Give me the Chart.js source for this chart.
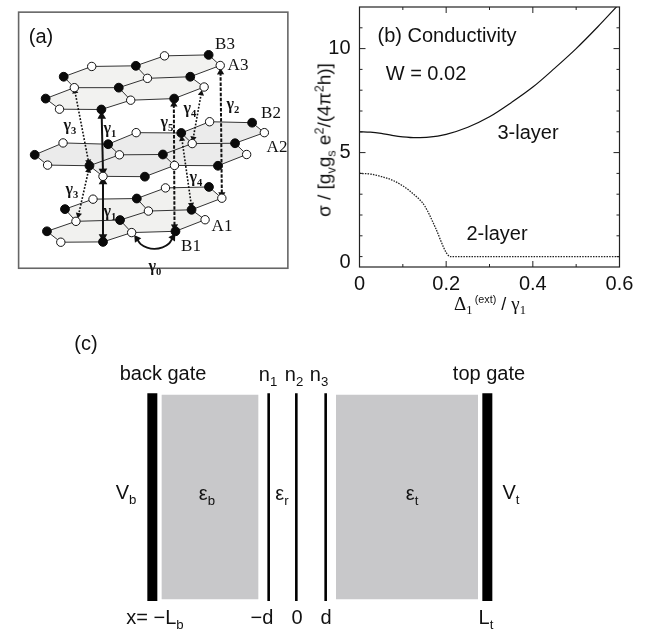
<!DOCTYPE html>
<html>
<head>
<meta charset="utf-8">
<title>Conductivity</title>
<script src="https://cdn.jsdelivr.net/npm/chart.js@4"></script>
<style>
  html, body { margin: 0; padding: 0; background: #fff; }
  #page { position: relative; width: 657px; height: 629px; overflow: hidden; font-family: "Liberation Sans", sans-serif; color: #111; filter: blur(0.35px); }
  .panel { position: absolute; }
  .panel canvas { position: absolute; left: 0; top: 0; }
  .lab { position: absolute; white-space: nowrap; transform: translate(-50%, -50%); font-size: 20px; line-height: 1; }
  .lab sub, .lab sup { font-size: 66%; line-height: 0; }
  .ser { font-family: "Liberation Serif", serif; font-size: 17px; }
  .gam { font-family: "Liberation Serif", serif; font-size: 16px; font-weight: bold; }
  .rot { transform: translate(-50%, -50%) rotate(-90deg); font-size: 19px; }
  .ttl { font-size: 18px; }
  .ttl sup { font-size: 60%; }
  .sym { font-family: "Liberation Serif", serif; font-size: 19px; }
</style>
</head>
<body>
<div id="page">
  <div class="panel" id="panelA" style="left:0;top:0;width:320px;height:300px"><canvas id="chartA" width="320" height="300"></canvas></div>
  <div class="panel" id="panelB" style="left:320px;top:0;width:337px;height:320px"><canvas id="chartB" width="337" height="320"></canvas></div>
  <div class="panel" id="panelC" style="left:60px;top:320px;width:480px;height:309px"><canvas id="chartC" width="480" height="309"></canvas></div>
</div>
<script>
// (b) conductivity curves
const layer3X = [0, 0.025, 0.05, 0.075, 0.1, 0.13, 0.16, 0.2, 0.25, 0.3, 0.35, 0.4, 0.45, 0.5, 0.55, 0.595];
const layer3Y = [6.0, 5.98, 5.92, 5.83, 5.76, 5.72, 5.74, 5.88, 6.22, 6.72, 7.4, 8.15, 9.05, 10.0, 11.05, 12.05];
const layer2X = [0, 0.025, 0.05, 0.075, 0.1, 0.125, 0.15, 0.175, 0.2, 0.21, 0.4, 0.6];
const layer2Y = [4.0, 3.97, 3.85, 3.68, 3.4, 3.0, 2.45, 1.4, 0.2, 0, 0, 0];
const xTickValues = [0, 0.2, 0.4, 0.6];
const xTickLabels = ['0', '0.2', '0.4', '0.6'];
const yTickValues = [-0.3, 5, 10]; // the 0 label sits a bit below its tick in the figure
const yTickLabels = ['0', '5', '10'];
const xMinor = [0.1, 0.3, 0.5];
const yMinor = [0, 1, 2, 3, 4, 6, 7, 8, 9, 11];
const yMajor = [5, 10];

// (a) lattice, in units of 1/3 px
const fillTop = [[181,222],[268,190],[405,188],[494,157],[631,154],[667,187],[574,222],[617,254],[524,290],[389,295],[298,324],[168,323],[125,290],[214,256]];
const fillMid = [[91,465],[179,428],[319,432],[406,396],[546,397],[634,362],[766,365],[804,396],[713,429],[749,464],[660,499],[525,498],[433,533],[303,532],[261,499],[131,497]];
const fillBot = [[185,634],[272,603],[408,601],[497,568],[632,565],[672,600],[578,636],[620,667],[528,703],[392,707],[303,736],[172,737],[129,703],[219,672]];
const bonds = [
  [[181,222],[268,190],[405,188],[494,157],[631,154],[667,187],[574,222],[441,227],[405,188]],
  [[181,222],[214,256],[352,256],[441,227]],
  [[574,222],[617,254],[524,290],[389,295],[352,256]],
  [[214,256],[125,290],[168,323],[298,324],[389,295]],
  [[91,465],[179,428],[319,432],[406,396],[546,397],[634,362],[766,365],[804,396],[713,429],[580,430],[546,397]],
  [[319,432],[354,465],[489,464],[580,430]],
  [[713,429],[749,464],[660,499],[525,498],[489,464]],
  [[91,465],[131,497],[261,499],[354,465]],
  [[261,499],[303,532],[433,533],[525,498]],
  [[185,634],[272,603],[408,601],[497,568],[632,565],[672,600],[578,636],[444,640],[408,601]],
  [[185,634],[219,672],[356,668],[444,640]],
  [[578,636],[620,667],[528,703],[392,707],[356,668]],
  [[219,672],[129,703],[172,737],[303,736],[392,707]]
];
const blackSites = [[181,222],[405,188],[631,154],[125,290],[352,256],[574,222],[298,324],[524,290],
  [91,465],[319,432],[546,397],[766,365],[261,499],[489,464],[713,429],[433,533],[660,499],
  [632,565],[408,601],[185,634],[578,636],[356,668],[129,703],[528,703],[303,736]];
const whiteSites = [[268,190],[494,157],[667,187],[214,256],[441,227],[617,254],[168,323],[389,295],
  [179,428],[406,396],[634,362],[804,396],[131,497],[354,465],[580,430],[749,464],[303,532],[525,498],
  [497,568],[272,603],[672,600],[444,640],[219,672],[620,667],[392,707],[172,737]];
const solidArrows = [[[299,345],[303,516]], [[303,549],[303,720]]];
const dashedArrows = [[[523,308],[525,688]], [[668,208],[672,588]]];
const dottedArrows = [[[216,268],[258,486]], [[258,514],[227,652]], [[608,274],[583,414]], [[548,416],[577,620]]];
const gamma0Arc = [[408,726],[420,743],[440,754],[463,758],[488,753],[508,741],[520,722]];

// (c) device
const gateBars = [[277, 220, 843], [1282, 220, 843]];
const sheetLines = [[626, 220, 843], [709, 220, 843], [797, 220, 843]];
const dielectricBoxes = [[305, 595, 224, 838], [828, 1254, 224, 838]];

// labels: x, y, html, class
const labelsA = [
  [41,36,'(a)',''], [225,43,'B3','ser'], [238,64,'A3','ser'], [271,112,'B2','ser'], [277,146,'A2','ser'],
  [222,225,'A1','ser'], [191,245,'B1','ser'],
  [70,125,'γ<sub>3</sub>','gam'], [110,128,'γ<sub>1</sub>','gam'], [167,122,'γ<sub>5</sub>','gam'],
  [190,108,'γ<sub>4</sub>','gam'], [233,104,'γ<sub>2</sub>','gam'], [196,177,'γ<sub>4</sub>','gam'],
  [72,189,'γ<sub>3</sub>','gam'], [110,211,'γ<sub>1</sub>','gam'], [155,266,'γ<sub>0</sub>','gam']
];
const labelsB = [
  [127,35,'(b) Conductivity',''], [106,73,'W = 0.02',''], [208,132,'3-layer',''], [177,233,'2-layer',''],
  [4,140,'σ / [g<sub>v</sub>g<sub>s</sub> e<sup>2</sup>/(4π<sup>2</sup>h)]','rot'],
  [170,303,'<span class="sym">Δ<sub>1</sub></span><sup>&thinsp;(ext)</sup> / <span class="sym">γ<sub>1</sub></span>','ttl']
];
const labelsC = [
  [26,23,'(c)',''], [103,53,'back gate',''], [208,54,'n<sub>1</sub>',''], [234,54,'n<sub>2</sub>',''], [259,54,'n<sub>3</sub>',''],
  [429,53,'top gate',''], [66,172,'V<sub>b</sub>',''], [147,173,'ε<sub>b</sub>',''], [222,173,'ε<sub>r</sub>',''],
  [352,173,'ε<sub>t</sub>',''], [451,172,'V<sub>t</sub>',''], [95,297,'x= −L<sub>b</sub>',''], [202,297,'−d',''],
  [237,297,'0',''], [266,297,'d',''], [426,297,'L<sub>t</sub>','']
];

function toPoints(list) {
  return list.map(p => ({x: p[0], y: p[1]}));
}

function addLabels(panelId, labels) {
  const panel = document.getElementById(panelId);
  labels.forEach(l => {
    const el = document.createElement('div');
    el.className = 'lab ' + l[3];
    el.style.left = l[0] + 'px';
    el.style.top = l[1] + 'px';
    el.innerHTML = l[2];
    panel.appendChild(el);
  });
}

// triangle head pointing from a to b (both panel axes have the same scale)
function headAngle(a, b) {
  return Math.atan2(b[0] - a[0], -(b[1] - a[1])) * 180 / Math.PI;
}

function lineDs(points, color, width, dash, order) {
  return {
    data: toPoints(points), borderColor: color, borderWidth: width, borderDash: dash || [],
    pointRadius: 0, tension: 0, fill: false, order: order, borderCapStyle: 'butt', clip: false
  };
}

function polyDs(points, color, order) {
  return {
    data: toPoints(points.concat([points[0]])), borderWidth: 0, borderColor: 'transparent', backgroundColor: color,
    pointRadius: 0, tension: 0, fill: 'shape', order: order
  };
}

function arrowDs(seg, size, order) {
  const n = seg.length;
  return {
    data: toPoints([seg[0], seg[n - 1]]), showLine: false, pointStyle: 'triangle', pointRadius: size,
    pointRotation: [headAngle(seg[1], seg[0]), headAngle(seg[n - 2], seg[n - 1])],
    pointBackgroundColor: '#111', pointBorderWidth: 0, order: order
  };
}

const plainOptions = (w, h) => ({
  responsive: false,
  animation: false,
  layout: { padding: 0 },
  plugins: { legend: { display: false }, tooltip: { enabled: false } },
  scales: {
    x: { type: 'linear', display: false, min: 0, max: w },
    y: { type: 'linear', display: false, min: 0, max: h, reverse: true }
  }
});

// panel (a)
const datasetsA = [
  polyDs(fillTop, '#f2f2f0', 40), polyDs(fillMid, '#ebebeb', 40), polyDs(fillBot, '#f1f1ef', 40)
];
bonds.forEach(b => datasetsA.push(lineDs(b, '#333', 1, [], 30)));
solidArrows.forEach(s => {
  datasetsA.push(lineDs(s, '#111', 2, [], 20));
  datasetsA.push(arrowDs(s, 5, 10));
});
dashedArrows.forEach(s => {
  datasetsA.push(lineDs(s, '#111', 2, [3.5, 1.6], 20));
  datasetsA.push(arrowDs(s, 4.2, 10));
});
dottedArrows.forEach(s => {
  datasetsA.push(lineDs(s, '#111', 1.6, [1.8, 1.6], 20));
  datasetsA.push(arrowDs(s, 3.6, 10));
});
const arc = lineDs(gamma0Arc, '#111', 1.8, [], 20);
arc.tension = 0.4;
datasetsA.push(arc);
datasetsA.push(arrowDs(gamma0Arc, 4.5, 10));
datasetsA.push({
  data: toPoints(blackSites), showLine: false, pointStyle: 'circle', pointRadius: 4.4,
  pointBackgroundColor: '#0a0a0a', pointBorderColor: '#0a0a0a', pointBorderWidth: 1, order: 1
});
datasetsA.push({
  data: toPoints(whiteSites), showLine: false, pointStyle: 'circle', pointRadius: 4.2,
  pointBackgroundColor: '#fff', pointBorderColor: '#111', pointBorderWidth: 1, order: 0
});

const frameA = {
  id: 'frameA',
  beforeDatasetsDraw(chart) {
    const c = chart.ctx, sx = chart.scales.x, sy = chart.scales.y;
    c.save();
    c.strokeStyle = '#666';
    c.lineWidth = 1.6;
    c.strokeRect(sx.getPixelForValue(41), sy.getPixelForValue(21), sx.getPixelForValue(877) - sx.getPixelForValue(41), sy.getPixelForValue(818) - sy.getPixelForValue(21));
    c.restore();
  }
};

new Chart(document.getElementById('chartA'), {
  type: 'line',
  data: { datasets: datasetsA },
  options: plainOptions(960, 900),
  plugins: [frameA]
});

// inward ticks on all four sides plus the box
const inwardTicks = {
  id: 'inwardTicks',
  afterDatasetsDraw(chart) {
    const c = chart.ctx, a = chart.chartArea, sx = chart.scales.x, sy = chart.scales.y;
    c.save();
    c.strokeStyle = '#222';
    c.lineWidth = 1;
    c.beginPath();
    const xt = (v, len) => {
      const p = sx.getPixelForValue(v);
      c.moveTo(p, a.bottom); c.lineTo(p, a.bottom - len);
      c.moveTo(p, a.top); c.lineTo(p, a.top + len);
    };
    const yt = (v, len) => {
      const p = sy.getPixelForValue(v);
      c.moveTo(a.left, p); c.lineTo(a.left + len, p);
      c.moveTo(a.right, p); c.lineTo(a.right - len, p);
    };
    xTickValues.forEach(v => xt(v, 6));
    xMinor.forEach(v => xt(v, 3));
    yMajor.forEach(v => yt(v, 6));
    yMinor.forEach(v => yt(v, 3));
    c.stroke();
    c.lineWidth = 1.2;
    c.strokeRect(a.left, a.top, a.right - a.left, a.bottom - a.top);
    c.restore();
  }
};

// panel (b)
new Chart(document.getElementById('chartB'), {
  type: 'line',
  data: {
    datasets: [
      {
        label: '3-layer',
        data: layer3X.map((x, i) => ({x: x, y: layer3Y[i]})),
        borderColor: '#111', borderWidth: 1.2, pointRadius: 0, cubicInterpolationMode: 'monotone'
      },
      {
        label: '2-layer',
        data: layer2X.map((x, i) => ({x: x, y: layer2Y[i]})),
        borderColor: '#222', borderWidth: 1.3, borderDash: [1.5, 1.2], pointRadius: 0, cubicInterpolationMode: 'monotone'
      }
    ]
  },
  options: {
    responsive: false,
    animation: false,
    layout: { padding: { top: 7, right: 37.5, left: 0, bottom: 0 } },
    plugins: { legend: { display: false }, tooltip: { enabled: false } },
    scales: {
      x: {
        type: 'linear', min: 0, max: 0.6,
        grid: { display: false, drawTicks: false }, border: { display: false },
        afterBuildTicks: s => { s.ticks = xTickValues.map(v => ({value: v})); },
        afterFit: s => { s.height = 53; s.paddingLeft = 0; s.paddingRight = 0; },
        ticks: {
          autoSkip: false, maxRotation: 0, padding: 5, color: '#111',
          font: { family: 'Liberation Sans', size: 20 },
          callback: (v, i) => xTickLabels[i]
        }
      },
      y: {
        type: 'linear', min: -0.5, max: 12,
        grid: { display: false, drawTicks: false }, border: { display: false },
        afterBuildTicks: s => { s.ticks = yTickValues.map(v => ({value: v})); },
        afterFit: s => { s.width = 39.5; s.paddingTop = 0; s.paddingBottom = 0; },
        ticks: {
          autoSkip: false, padding: 9, color: '#111',
          font: { family: 'Liberation Sans', size: 20 },
          callback: (v, i) => yTickLabels[i]
        }
      }
    }
  },
  plugins: [inwardTicks]
});

// panel (c)
const datasetsC = [];
dielectricBoxes.forEach(b => {
  datasetsC.push(polyDs([[b[0],b[2]],[b[1],b[2]],[b[1],b[3]],[b[0],b[3]]], '#c8c8ca', 10));
});
gateBars.forEach(g => datasetsC.push(lineDs([[g[0],g[1]],[g[0],g[2]]], '#000', 10, [], 1)));
sheetLines.forEach(l => datasetsC.push(lineDs([[l[0],l[1]],[l[0],l[2]]], '#000', 2.6, [], 1)));

new Chart(document.getElementById('chartC'), {
  type: 'line',
  data: { datasets: datasetsC },
  options: plainOptions(1440, 927)
});

addLabels('panelA', labelsA);
addLabels('panelB', labelsB);
addLabels('panelC', labelsC);
</script>
</body>
</html>
